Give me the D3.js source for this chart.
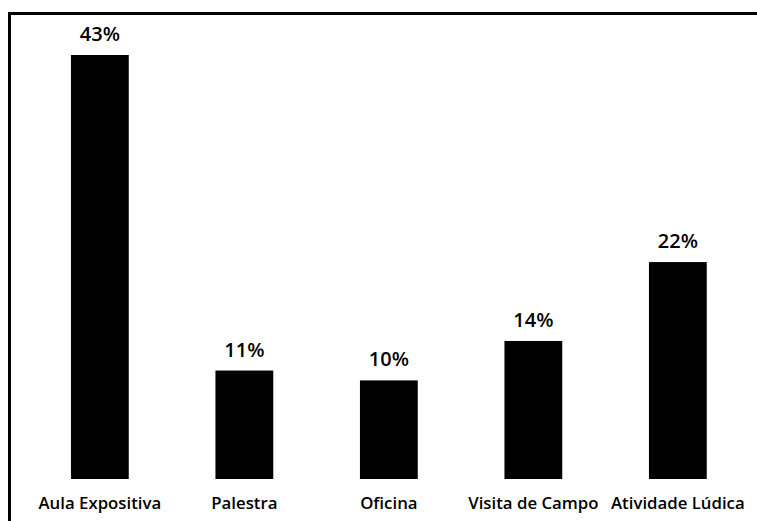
<!DOCTYPE html>
<html>
<head>
<meta charset="utf-8">
<script src="https://cdn.jsdelivr.net/npm/d3@7"></script>
<style>
  html, body { margin: 0; padding: 0; background: #ffffff; }
  svg { display: block; }
</style>
</head>
<body>
<svg id="chart" width="757" height="521"></svg>
<script>
// Metodologias utilizadas (percentual de respostas)
const categories = ["Aula Expositiva", "Palestra", "Oficina", "Visita de Campo", "Atividade Lúdica"];
const values = [43, 11, 10, 14, 22];
const valueLabels = ["43%", "11%", "10%", "14%", "22%"];

const width = 757, height = 521;
const svg = d3.select("#chart");

svg.append("rect")
  .attr("width", width).attr("height", height)
  .attr("fill", "#ffffff");

// outer chart frame (runs off the right and bottom edges)
svg.append("rect")
  .attr("x", 9.5).attr("y", 13.5)
  .attr("width", 800).attr("height", 600)
  .attr("fill", "none")
  .attr("stroke", "#000")
  .attr("stroke-width", 3);

const x = d3.scaleBand()
  .domain(categories)
  .range([27.6, 750.1])
  .paddingInner(0.6)
  .paddingOuter(0.3);

const y = d3.scaleLinear()
  .domain([0, 43])
  .range([479, 55]);

const data = categories.map((c, i) => ({ cat: c, v: values[i], label: valueLabels[i] }));

svg.append("g").selectAll("rect")
  .data(data)
  .join("rect")
  .attr("x", d => x(d.cat))
  .attr("y", d => y(d.v))
  .attr("width", x.bandwidth())
  .attr("height", d => y(0) - y(d.v))
  .attr("fill", "#000");

svg.append("g").selectAll("text")
  .data(data)
  .join("text")
  .attr("x", d => x(d.cat) + x.bandwidth() / 2)
  .attr("y", d => y(d.v) - 14)
  .attr("text-anchor", "middle")
  .attr("font-family", "'Open Sans', 'DejaVu Sans', sans-serif")
  .attr("font-size", 20)
  .attr("font-weight", 600)
  .attr("fill", "#000")
  .text(d => d.label);

// category axis labels, no axis line or ticks drawn
const xAxis = d3.axisBottom(x).tickSize(0).tickPadding(0);
const axisG = svg.append("g")
  .attr("transform", `translate(0, ${y(0)})`)
  .call(xAxis);
axisG.select(".domain").remove();
axisG.selectAll("text")
  .attr("dy", null)
  .attr("y", 30)
  .attr("font-family", "'Open Sans', 'DejaVu Sans', sans-serif")
  .attr("font-size", 16.8)
  .attr("font-weight", 600)
  .attr("fill", "#000");
</script>
</body>
</html>
